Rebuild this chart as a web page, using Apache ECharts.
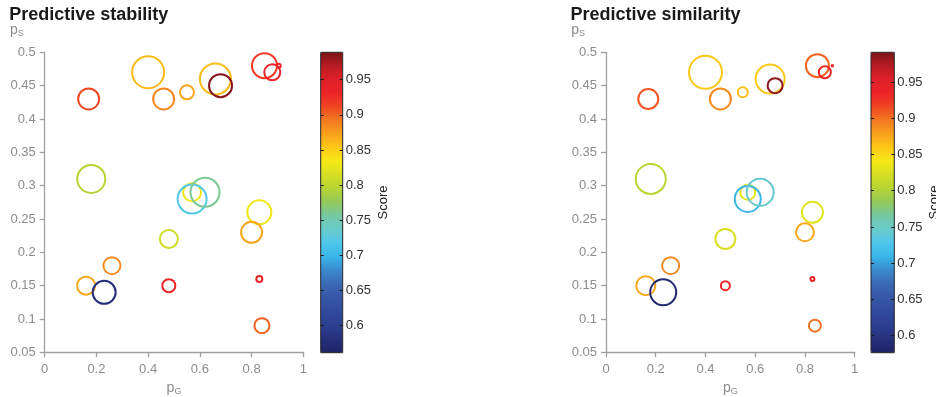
<!DOCTYPE html>
<html>
<head>
<meta charset="utf-8">
<script src="https://cdn.jsdelivr.net/npm/echarts@6/dist/echarts.min.js"></script>
<style>
  html, body { margin: 0; padding: 0; background: #fff; }
  #chart { width: 936px; height: 397px; }
</style>
</head>
<body>
<div id="chart"></div>
<script>
// ---- Predictive stability ----
const stabPG    = [0.40, 0.17, 0.46, 0.18, 0.48, 0.26, 0.16, 0.23, 0.48, 0.55, 0.66, 0.68, 0.85, 0.88, 0.905, 0.57, 0.57, 0.62, 0.83, 0.80, 0.83, 0.84];
const stabPS    = [0.47, 0.43, 0.43, 0.31, 0.22, 0.18, 0.15, 0.14, 0.15, 0.44, 0.46, 0.45, 0.48, 0.47, 0.48, 0.29, 0.28, 0.29, 0.26, 0.23, 0.16, 0.09];
const stabSize  = [32, 21, 21, 28, 18, 17, 18, 23, 13, 14, 31, 23, 25, 16, 4, 18, 29, 29, 24, 21, 6, 15];
const stabScore = [0.86, 0.91, 0.885, 0.795, 0.81, 0.885, 0.87, 0.58, 0.93, 0.87, 0.86, 0.985, 0.92, 0.935, 0.93, 0.83, 0.72, 0.76, 0.83, 0.87, 0.94, 0.90];
const stabRange = [0.5615, 0.989];

// ---- Predictive similarity ----
const simPG    = [0.40, 0.17, 0.46, 0.18, 0.48, 0.26, 0.16, 0.23, 0.48, 0.55, 0.66, 0.68, 0.85, 0.88, 0.91, 0.57, 0.57, 0.62, 0.83, 0.80, 0.83, 0.84];
const simPS    = [0.47, 0.43, 0.43, 0.31, 0.22, 0.18, 0.15, 0.14, 0.15, 0.44, 0.46, 0.45, 0.48, 0.47, 0.48, 0.29, 0.28, 0.29, 0.26, 0.23, 0.16, 0.09];
const simSize  = [33, 20, 21, 30, 20, 17, 19, 26, 9, 10, 29, 15, 23, 12, 1.5, 15, 26, 27, 21, 18, 4, 12];
const simScore = [0.86, 0.91, 0.89, 0.805, 0.825, 0.89, 0.875, 0.585, 0.935, 0.865, 0.86, 0.985, 0.905, 0.935, 0.94, 0.83, 0.71, 0.745, 0.83, 0.875, 0.94, 0.90];
const simRange = [0.5765, 0.991];

// axis ticks
const yTicks  = [0.05, 0.5, 0.05];      // min, max, step
const xTicks  = [0, 1, 0.2];
const cbTicks = [0.6, 0.65, 0.7, 0.75, 0.8, 0.85, 0.9, 0.95];

// jet-like colour map, bottom to top
const cmap = ['#202466', '#262f7b', '#2c3f90', '#31499c', '#3656a6', '#3a68b4', '#3b88cb', '#38b4e8',
              '#4ec6ec', '#68cbcc', '#74c8a4', '#92c95c', '#b6d434', '#d4de24', '#f5ea16', '#fcca16',
              '#f9a11d', '#f47a20', '#ef4623', '#ec2427', '#e02028', '#b81c22', '#7a1619'];

function hexToRgb(h) {
  const n = parseInt(h.slice(1), 16);
  return [(n >> 16) & 255, (n >> 8) & 255, n & 255];
}
function colorAt(v, range) {
  let f = (v - range[0]) / (range[1] - range[0]);
  f = Math.max(0, Math.min(1, f));
  const pos = f * (cmap.length - 1);
  const i = Math.min(Math.floor(pos), cmap.length - 2);
  const t = pos - i;
  const a = hexToRgb(cmap[i]), b = hexToRgb(cmap[i + 1]);
  const c = a.map((x, k) => Math.round(x + (b[k] - x) * t));
  return 'rgb(' + c.join(',') + ')';
}
function buildData(pg, ps, size, score, range) {
  return pg.map((x, i) => ({
    value: [x, ps[i], size[i], score[i]],
    itemStyle: { borderColor: colorAt(score[i], range) }
  }));
}

const FONT = 'Liberation Sans, Arial, Helvetica, sans-serif';
const AXIS_GRAY = '#a0a0a0';
const LABEL_GRAY = '#8c8c8c';

const panels = [
  { title: 'Predictive stability', left: 44.7, width: 258.6, cbLeft: 320.7, cbWidth: 22, range: stabRange,
    data: buildData(stabPG, stabPS, stabSize, stabScore, stabRange) },
  { title: 'Predictive similarity', left: 606, width: 248.7, cbLeft: 871, cbWidth: 23.3, range: simRange,
    data: buildData(simPG, simPS, simSize, simScore, simRange) }
];

const nameRich = {
  p: { fontSize: 14, color: LABEL_GRAY, fontFamily: FONT, lineHeight: 16 },
  s: { fontSize: 9, color: LABEL_GRAY, fontFamily: FONT, lineHeight: 9, verticalAlign: 'bottom' }
};

const option = {
  animation: false,
  backgroundColor: '#fff',
  title: [], grid: [], xAxis: [], yAxis: [], series: [], visualMap: []
};

// tick-only axis sitting on one edge of the colour bar, marks pointing into the bar
function edgeTicks(gridIndex, range, position, offset) {
  return {
    gridIndex, type: 'value', position, offset, min: range[0], max: range[1], z: 30,
    axisLine: { show: false },
    axisTick: { length: 3, customValues: cbTicks, lineStyle: { color: '#1a1a1a', width: 1 } },
    axisLabel: { show: false },
    splitLine: { show: false }
  };
}

panels.forEach((p, k) => {
  const gMain = k * 2, gBar = k * 2 + 1;
  option.title.push({
    text: p.title, left: p.left - 35.5, top: 6, padding: 0,
    textStyle: { fontSize: 18, fontWeight: 'bold', color: '#1a1a1a', fontFamily: FONT }
  });
  // scatter panel
  option.grid.push({ left: p.left, top: 52.3, width: p.width, height: 300, outerBoundsMode: 'none', containLabel: false });
  // colour bar frame
  option.grid.push({ left: p.cbLeft, top: 52.3, width: p.cbWidth, height: 300.4, show: true,
    outerBoundsMode: 'none', containLabel: false,
    backgroundColor: 'transparent', borderColor: '#222', borderWidth: 1, z: 20 });

  option.xAxis.push({
    gridIndex: gMain, type: 'value', min: xTicks[0], max: xTicks[1], interval: xTicks[2],
    name: '{p|p}{s|G}', nameLocation: 'middle', nameGap: 25,
    nameTextStyle: { rich: nameRich },
    axisLine: { onZero: false, lineStyle: { color: AXIS_GRAY, width: 1.3 } },
    axisTick: { length: 5, lineStyle: { color: AXIS_GRAY, width: 1.3 } },
    axisLabel: { color: LABEL_GRAY, fontSize: 13, fontFamily: FONT, margin: 11 },
    splitLine: { show: false }
  });
  option.yAxis.push({
    gridIndex: gMain, type: 'value', min: yTicks[0], max: yTicks[1], interval: yTicks[2],
    name: '{p|p}{s|S}', nameLocation: 'end', nameGap: 14,
    nameTextStyle: { rich: nameRich, align: 'right', padding: [0, 21, 0, 0] },
    axisLine: { show: true, onZero: false, lineStyle: { color: AXIS_GRAY, width: 1.3 } },
    axisTick: { length: 5, lineStyle: { color: AXIS_GRAY, width: 1.3 } },
    axisLabel: { color: LABEL_GRAY, fontSize: 13, fontFamily: FONT, margin: 9 },
    splitLine: { show: false }
  });
  const yMainIdx = option.yAxis.length - 1;
  const xMainIdx = option.xAxis.length - 1;

  // colour bar: labelled axis on the right, inward tick marks on both edges
  option.xAxis.push({ gridIndex: gBar, type: 'value', min: 0, max: 1, show: false });
  const xb = option.xAxis.length - 1;
  option.yAxis.push({
    gridIndex: gBar, type: 'value', position: 'right', min: p.range[0], max: p.range[1], z: 30,
    name: 'Score', nameLocation: 'middle', nameGap: 34, nameRotate: 90,
    nameTextStyle: { color: '#222', fontSize: 13, fontFamily: FONT },
    axisLine: { show: false },
    axisTick: { show: false },
    axisLabel: { customValues: cbTicks, color: '#333', fontSize: 13, fontFamily: FONT, margin: 3 },
    splitLine: { show: false }
  });
  const yb1 = option.yAxis.length - 1;
  option.yAxis.push(edgeTicks(gBar, p.range, 'right', -p.cbWidth));
  option.yAxis.push(edgeTicks(gBar, p.range, 'left', -p.cbWidth));

  option.series.push({
    type: 'scatter', xAxisIndex: xMainIdx, yAxisIndex: yMainIdx,
    symbol: 'circle', symbolSize: v => v[2],
    itemStyle: { color: 'transparent', borderWidth: 2, opacity: 1 },
    emphasis: { disabled: true },
    data: p.data
  });
  // empty series that carries the colour bar legend
  option.series.push({ type: 'scatter', xAxisIndex: xb, yAxisIndex: yb1, data: [] });
  option.visualMap.push({
    type: 'continuous', seriesIndex: option.series.length - 1,
    min: p.range[0], max: p.range[1], orient: 'vertical',
    left: p.cbLeft, top: 52.3, itemWidth: p.cbWidth, itemHeight: 300.4,
    padding: 0, calculable: false, hoverLink: false, z: 1,
    inRange: { color: cmap }
  });
});

const chart = echarts.init(document.getElementById('chart'), null, { renderer: 'canvas' });
chart.setOption(option);
</script>
</body>
</html>
